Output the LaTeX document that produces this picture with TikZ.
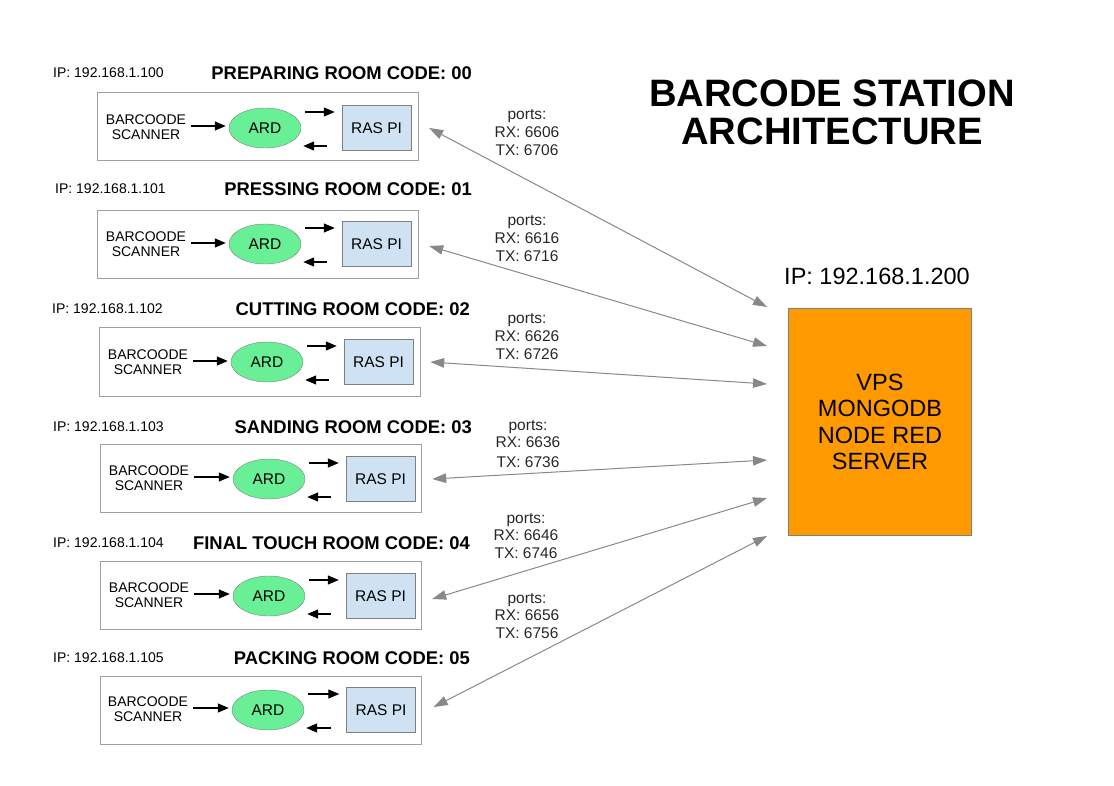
\documentclass[tikz,border=0pt]{standalone}
\usepackage{fontspec}
\setmainfont{Liberation Sans}
\usetikzlibrary{shapes.geometric,arrows.meta,positioning,calc}
\definecolor{ardgreen}{RGB}{105,240,150}
\definecolor{piblue}{RGB}{207,226,243}
\definecolor{vpsorange}{RGB}{255,153,0}
\definecolor{linkgray}{RGB}{136,136,136}
\definecolor{boxgray}{RGB}{160,160,160}

\begin{document}
\begin{tikzpicture}[x=1pt, y=-1pt,
    station/.style={draw=boxgray, line width=1pt, minimum width=321pt, minimum height=68pt, inner sep=0pt},
    scanner/.style={align=center, inner sep=5pt, font=\fontsize{14}{15.5}\selectfont},
    ard/.style={ellipse, draw=gray, fill=ardgreen, minimum width=72pt, minimum height=40pt, inner sep=0pt, font=\fontsize{15.5}{17}\selectfont},
    raspi/.style={draw=gray, fill=piblue, minimum width=69pt, minimum height=45pt, inner sep=0pt, font=\fontsize{15.5}{17}\selectfont},
    ipnote/.style={anchor=west, inner sep=0pt, font=\fontsize{14}{16}\selectfont},
    roomtitle/.style={anchor=east, inner sep=0pt, font=\fontsize{18.4}{20}\selectfont\bfseries},
    ports/.style={align=center, inner sep=0pt, font=\fontsize{15.5}{17.8}\selectfont, text=black!85},
    blk/.style={-{Triangle[length=11pt, width=9pt]}, line width=1.2pt},
    scanlink/.style={blk, shorten >=3pt},
    link/.style={{Triangle[length=14pt, width=9.5pt]}-{Triangle[length=14pt, width=9.5pt]}, linkgray, line width=1pt}]
    \useasboundingbox (0,0) rectangle (1114,786);

    % Title
    \node[align=center, font=\fontsize{38.2}{38}\selectfont\bfseries] (heading) at (832,112) {BARCODE STATION\\ARCHITECTURE};

    % Server
    \node[draw=gray, fill=vpsorange, minimum width=183pt, minimum height=227pt, align=center,
          font=\fontsize{23.5}{26.5}\selectfont] (vps) at (880,422) {VPS\\MONGODB\\NODE RED\\SERVER};
    \node[font=\fontsize{23.5}{26}\selectfont, inner sep=0pt] (vpsip) at (877,276) {IP: 192.168.1.200};
    \coordinate (s0) at (767,307);
    \coordinate (s1) at (767,346);
    \coordinate (s2) at (767,384);
    \coordinate (s3) at (767,460);
    \coordinate (s4) at (767,498);
    \coordinate (s5) at (767,536);

    % Preparing room
    \node[ipnote] (ip0) at (53,73) {IP: 192.168.1.100};
    \node[roomtitle] (room0) at (472,73) {PREPARING ROOM CODE: 00};
    \node[station] (box0) at (257.5,127) {};
    \node[scanner] (scan0) at (146,127) {BARCOODE\\SCANNER};
    \node[ard] (ard0) at (265,128) {ARD};
    \node[raspi] (pi0) at (376.5,128) {RAS PI};
    \draw[scanlink] (scan0.east |- 0,126) -- (ard0.west |- 0,126);
    \draw[blk] ($(ard0.east)+(4,-16)$) -- ($(pi0.west)+(-7,-16)$);
    \draw[blk] ($(pi0.west)+(-15,18)$) -- ($(ard0.east)+(2,18)$);
    \draw[link] ($(pi0.east)+(18,0)$) -- (s0);
    \node[ports] (port0) at (527,132.5) {ports:\\RX: 6606\\TX: 6706};

    % Pressing room
    \node[ipnote] (ip1) at (55,189) {IP: 192.168.1.101};
    \node[roomtitle] (room1) at (472,189) {PRESSING ROOM CODE: 01};
    \node[station] (box1) at (257.5,244.5) {};
    \node[scanner] (scan1) at (146,244) {BARCOODE\\SCANNER};
    \node[ard] (ard1) at (265,244) {ARD};
    \node[raspi] (pi1) at (376.5,244) {RAS PI};
    \draw[scanlink] (scan1.east |- 0,243) -- (ard1.west |- 0,243);
    \draw[blk] ($(ard1.east)+(4,-16)$) -- ($(pi1.west)+(-7,-16)$);
    \draw[blk] ($(pi1.west)+(-15,18)$) -- ($(ard1.east)+(2,18)$);
    \draw[link] ($(pi1.east)+(18,2)$) -- (s1);
    \node[ports] (port1) at (527,238.5) {ports:\\RX: 6616\\TX: 6716};

    % Cutting room
    \node[ipnote] (ip2) at (52,309) {IP: 192.168.1.102};
    \node[roomtitle] (room2) at (470,309) {CUTTING ROOM CODE: 02};
    \node[station] (box2) at (259.5,362) {};
    \node[scanner] (scan2) at (148,362) {BARCOODE\\SCANNER};
    \node[ard] (ard2) at (267,362) {ARD};
    \node[raspi] (pi2) at (378.5,362) {RAS PI};
    \draw[scanlink] (scan2.east |- 0,361) -- (ard2.west |- 0,361);
    \draw[blk] ($(ard2.east)+(4,-16)$) -- ($(pi2.west)+(-7,-16)$);
    \draw[blk] ($(pi2.west)+(-15,18)$) -- ($(ard2.east)+(2,18)$);
    \draw[link] ($(pi2.east)+(17,0)$) -- (s2);
    \node[ports] (port2) at (527,336.5) {ports:\\RX: 6626\\TX: 6726};

    % Sanding room
    \node[ipnote] (ip3) at (53,427) {IP: 192.168.1.103};
    \node[roomtitle] (room3) at (472,427) {SANDING ROOM CODE: 03};
    \node[station] (box3) at (261,478) {};
    \node[scanner] (scan3) at (149,478) {BARCOODE\\SCANNER};
    \node[ard] (ard3) at (269,479) {ARD};
    \node[raspi] (pi3) at (380.5,479) {RAS PI};
    \draw[scanlink] (scan3.east |- 0,477) -- (ard3.west |- 0,477);
    \draw[blk] ($(ard3.east)+(4,-16)$) -- ($(pi3.west)+(-7,-16)$);
    \draw[blk] ($(pi3.west)+(-15,18)$) -- ($(ard3.east)+(2,18)$);
    \draw[link] ($(pi3.east)+(17,0)$) -- (s3);
    \node[ports] (port3) at (528,444) {ports:\\RX: 6636\\[2pt]TX: 6736};

    % Final touch room
    \node[ipnote] (ip4) at (53,543) {IP: 192.168.1.104};
    \node[roomtitle] (room4) at (470,543) {FINAL TOUCH ROOM CODE: 04};
    \node[station] (box4) at (261,595.5) {};
    \node[scanner] (scan4) at (149,595) {BARCOODE\\SCANNER};
    \node[ard] (ard4) at (269,596) {ARD};
    \node[raspi] (pi4) at (380.5,596) {RAS PI};
    \draw[scanlink] (scan4.east |- 0,594) -- (ard4.west |- 0,594);
    \draw[blk] ($(ard4.east)+(4,-16)$) -- ($(pi4.west)+(-7,-16)$);
    \draw[blk] ($(pi4.west)+(-15,18)$) -- ($(ard4.east)+(2,18)$);
    \draw[link] ($(pi4.east)+(17,3)$) -- (s4);
    \node[ports] (port4) at (526,536) {ports:\\RX: 6646\\TX: 6746};

    % Packing room
    \node[ipnote] (ip5) at (53,658) {IP: 192.168.1.105};
    \node[roomtitle] (room5) at (470,658) {PACKING ROOM CODE: 05};
    \node[station] (box5) at (261,710) {};
    \node[scanner] (scan5) at (148,709) {BARCOODE\\SCANNER};
    \node[ard] (ard5) at (268,710) {ARD};
    \node[raspi] (pi5) at (381,710) {RAS PI};
    \draw[scanlink] (scan5.east |- 0,708) -- (ard5.west |- 0,708);
    \draw[blk] ($(ard5.east)+(4,-16)$) -- ($(pi5.west)+(-7,-16)$);
    \draw[blk] ($(pi5.west)+(-15,18)$) -- ($(ard5.east)+(2,18)$);
    \draw[link] ($(pi5.east)+(18,-3)$) -- (s5);
    \node[ports] (port5) at (527,616) {ports:\\RX: 6656\\TX: 6756};
\end{tikzpicture}
\end{document}
